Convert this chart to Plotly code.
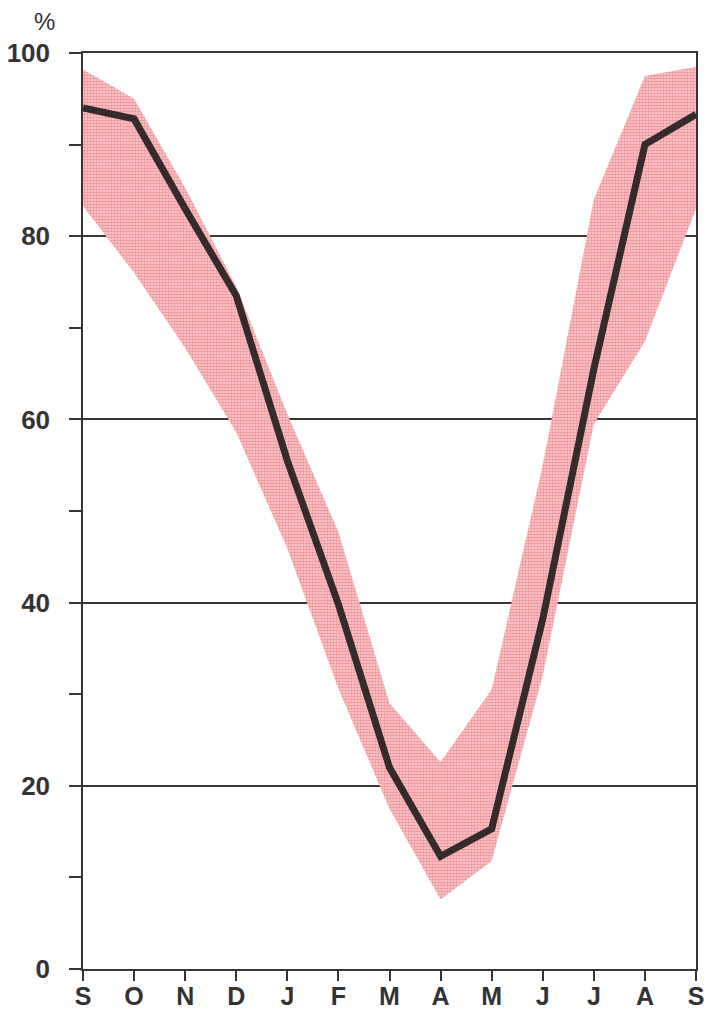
import plotly.graph_objects as go

months = ['S', 'O', 'N', 'D', 'J', 'F', 'M', 'A', 'M', 'J', 'J', 'A', 'S']
mean_pct = [94.0, 92.8, 83.0, 73.5, 55.5, 39.8, 22.0, 12.3, 15.3, 38.2, 65.5, 90.0, 93.3]
upper_pct = [98.2, 95.0, 85.3, 74.5, 60.6, 47.7, 29.0, 22.6, 30.5, 55.0, 84.0, 97.5, 98.5]
lower_pct = [83.3, 76.0, 67.8, 58.6, 45.9, 30.6, 17.5, 7.6, 11.8, 32.0, 59.5, 68.5, 83.0]
y_ticks = [0, 20, 40, 60, 80, 100]

x = list(range(len(months)))
ink = '#3a3433'

fig = go.Figure()
fig.add_trace(go.Scatter(x=x, y=lower_pct, mode='lines', line=dict(width=0),
                         showlegend=False, hoverinfo='skip'))
fig.add_trace(go.Scatter(x=x, y=upper_pct, mode='lines', line=dict(width=0),
                         fill='tonexty', fillcolor='#f4a8a8',
                         fillpattern=dict(shape='.', fgcolor='#e5505a', bgcolor='#fad6d6',
                                          size=3, solidity=0.6),
                         showlegend=False, hoverinfo='skip'))
fig.add_trace(go.Scatter(x=x, y=mean_pct, mode='lines',
                         line=dict(color='#352b2a', width=7),
                         showlegend=False))

x_font = dict(family='Liberation Sans', size=25, color='#333333', weight='bold')
y_font = dict(family='Liberation Sans', size=26, color='#333333', weight='bold')

fig.update_layout(
    width=709, height=1012,
    margin=dict(l=83, r=13, t=53, b=43),
    paper_bgcolor='white', plot_bgcolor='white',
    xaxis=dict(range=[0, 12], tickvals=x, ticktext=months, automargin=False,
               ticks='outside', ticklen=10, tickwidth=1.5, tickcolor=ink,
               showline=True, linecolor=ink, linewidth=1.5, mirror=True,
               showgrid=False, zeroline=False, tickfont=x_font,
               ticklabelstandoff=-6),
    yaxis=dict(range=[0, 100], tickvals=y_ticks, automargin=False,
               ticks='outside', ticklen=12, tickwidth=1.5, tickcolor=ink,
               showline=True, linecolor=ink, linewidth=1.5, mirror=True,
               showgrid=True, gridcolor=ink, gridwidth=1.5, zeroline=False,
               minor=dict(tickvals=[10, 30, 50, 70, 90], ticks='outside', ticklen=12,
                          tickwidth=1.5, tickcolor=ink, showgrid=False),
               tickfont=y_font, ticklabelstandoff=14),
    annotations=[dict(text='%', xref='paper', yref='paper',
                      x=(44 - 83) / 613, y=(969 - 22) / 916,
                      xanchor='center', yanchor='middle', showarrow=False,
                      font=dict(family='Liberation Sans', size=24, color='#333333'))],
)

fig.write_html('out.html')
